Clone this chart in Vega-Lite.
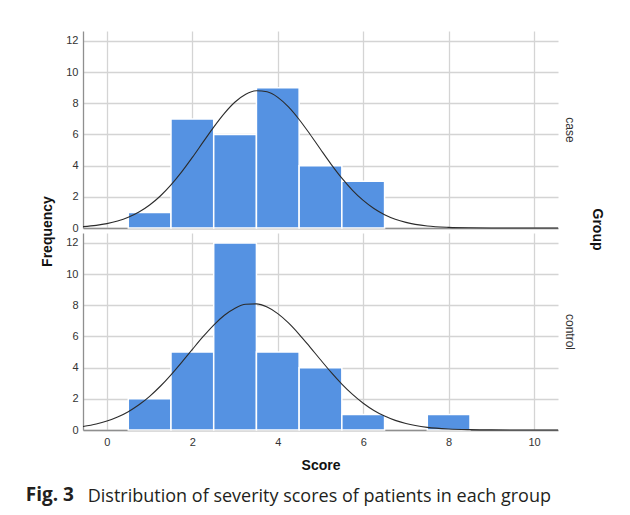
{
  "$schema": "https://vega.github.io/schema/vega-lite/v6.json",
  "padding": {"left": 25, "top": 31, "right": 5, "bottom": 5},
  "background": "white",
  "bounds": "flush",
  "datasets": {
    "bins": [
      {"group": "case", "lo": 0.5, "hi": 1.5, "count": 1},
      {"group": "case", "lo": 1.5, "hi": 2.5, "count": 7},
      {"group": "case", "lo": 2.5, "hi": 3.5, "count": 6},
      {"group": "case", "lo": 3.5, "hi": 4.5, "count": 9},
      {"group": "case", "lo": 4.5, "hi": 5.5, "count": 4},
      {"group": "case", "lo": 5.5, "hi": 6.5, "count": 3},
      {"group": "control", "lo": 0.5, "hi": 1.5, "count": 2},
      {"group": "control", "lo": 1.5, "hi": 2.5, "count": 5},
      {"group": "control", "lo": 2.5, "hi": 3.5, "count": 12},
      {"group": "control", "lo": 3.5, "hi": 4.5, "count": 5},
      {"group": "control", "lo": 4.5, "hi": 5.5, "count": 4},
      {"group": "control", "lo": 5.5, "hi": 6.5, "count": 1},
      {"group": "control", "lo": 7.5, "hi": 8.5, "count": 1}
    ],
    "curve": [
      {"group": "case", "x": -0.56, "y": 0.086},
      {"group": "case", "x": -0.25, "y": 0.169},
      {"group": "case", "x": 0, "y": 0.279},
      {"group": "case", "x": 0.25, "y": 0.445},
      {"group": "case", "x": 0.5, "y": 0.686},
      {"group": "case", "x": 0.75, "y": 1.022},
      {"group": "case", "x": 1, "y": 1.474},
      {"group": "case", "x": 1.25, "y": 2.053},
      {"group": "case", "x": 1.5, "y": 2.765},
      {"group": "case", "x": 1.75, "y": 3.599},
      {"group": "case", "x": 2, "y": 4.528},
      {"group": "case", "x": 2.25, "y": 5.507},
      {"group": "case", "x": 2.5, "y": 6.475},
      {"group": "case", "x": 2.75, "y": 7.358},
      {"group": "case", "x": 3, "y": 8.083},
      {"group": "case", "x": 3.25, "y": 8.583},
      {"group": "case", "x": 3.5, "y": 8.809},
      {"group": "case", "x": 3.75, "y": 8.74},
      {"group": "case", "x": 4, "y": 8.383},
      {"group": "case", "x": 4.25, "y": 7.771},
      {"group": "case", "x": 4.5, "y": 6.963},
      {"group": "case", "x": 4.75, "y": 6.032},
      {"group": "case", "x": 5, "y": 5.05},
      {"group": "case", "x": 5.25, "y": 4.087},
      {"group": "case", "x": 5.5, "y": 3.198},
      {"group": "case", "x": 5.75, "y": 2.419},
      {"group": "case", "x": 6, "y": 1.768},
      {"group": "case", "x": 6.25, "y": 1.249},
      {"group": "case", "x": 6.5, "y": 0.853},
      {"group": "case", "x": 6.75, "y": 0.563},
      {"group": "case", "x": 7, "y": 0.36},
      {"group": "case", "x": 7.5, "y": 0.132},
      {"group": "case", "x": 8, "y": 0.043},
      {"group": "case", "x": 8.5, "y": 0.012},
      {"group": "case", "x": 9, "y": 0.003},
      {"group": "case", "x": 10, "y": 0},
      {"group": "case", "x": 10.56, "y": 0},
      {"group": "control", "x": -0.56, "y": 0.222},
      {"group": "control", "x": -0.25, "y": 0.381},
      {"group": "control", "x": 0, "y": 0.571},
      {"group": "control", "x": 0.25, "y": 0.832},
      {"group": "control", "x": 0.5, "y": 1.177},
      {"group": "control", "x": 0.75, "y": 1.618},
      {"group": "control", "x": 1, "y": 2.162},
      {"group": "control", "x": 1.25, "y": 2.807},
      {"group": "control", "x": 1.5, "y": 3.542},
      {"group": "control", "x": 1.75, "y": 4.341},
      {"group": "control", "x": 2, "y": 5.172},
      {"group": "control", "x": 2.25, "y": 5.987},
      {"group": "control", "x": 2.5, "y": 6.735},
      {"group": "control", "x": 2.75, "y": 7.361},
      {"group": "control", "x": 3, "y": 7.817},
      {"group": "control", "x": 3.25, "y": 8.068},
      {"group": "control", "x": 3.5, "y": 8.091},
      {"group": "control", "x": 3.75, "y": 7.885},
      {"group": "control", "x": 4, "y": 7.467},
      {"group": "control", "x": 4.25, "y": 6.871},
      {"group": "control", "x": 4.5, "y": 6.143},
      {"group": "control", "x": 4.75, "y": 5.338},
      {"group": "control", "x": 5, "y": 4.507},
      {"group": "control", "x": 5.25, "y": 3.697},
      {"group": "control", "x": 5.5, "y": 2.947},
      {"group": "control", "x": 5.75, "y": 2.283},
      {"group": "control", "x": 6, "y": 1.719},
      {"group": "control", "x": 6.25, "y": 1.257},
      {"group": "control", "x": 6.5, "y": 0.894},
      {"group": "control", "x": 6.75, "y": 0.617},
      {"group": "control", "x": 7, "y": 0.414},
      {"group": "control", "x": 7.5, "y": 0.171},
      {"group": "control", "x": 8, "y": 0.063},
      {"group": "control", "x": 8.5, "y": 0.021},
      {"group": "control", "x": 9, "y": 0.006},
      {"group": "control", "x": 10, "y": 0},
      {"group": "control", "x": 10.56, "y": 0}
    ]
  },
  "config": {
    "font": "Liberation Sans",
    "view": {"stroke": null},
    "axis": {
      "labelFont": "Liberation Sans",
      "labelFontSize": 11,
      "labelColor": "#333333",
      "titleFont": "Liberation Sans",
      "titleFontSize": 14,
      "titleFontWeight": "bold",
      "titleColor": "#111111",
      "gridColor": "#d4d4d4",
      "gridWidth": 1.3,
      "domainColor": "#8f8f8f",
      "domainWidth": 1.3,
      "ticks": false
    },
    "title": {"font": "Open Sans", "fontSize": 18, "color": "#231f20"}
  },
  "spacing": 5,
  "title": {
    "text": "Distribution of severity scores of patients in each group",
    "orient": "bottom",
    "anchor": "start",
    "frame": "bounds",
    "fontWeight": "normal",
    "dx": 62,
    "dy": -21
  },
  "vconcat": [
    {
      "width": 475,
      "height": 197,
      "title": {
        "text": "Group",
        "orient": "right",
        "anchor": "middle",
        "font": "Liberation Sans",
        "fontSize": 14,
        "fontWeight": "bold",
        "color": "#111111",
        "offset": 15,
        "dx": 100
      },
      "layer": [
        {
          "data": {"name": "bins"},
          "transform": [{"filter": "datum.group === 'case'"}],
          "mark": {"type": "rect", "color": "#5592e2", "stroke": "white", "strokeWidth": 1.5},
          "encoding": {
            "x": {"field": "lo", "type": "quantitative", "scale": {"domain": [-0.56, 10.56], "nice": false, "zero": false},
                  "axis": {"title": null, "labels": false, "values": [0, 2, 4, 6, 8, 10]}},
            "x2": {"field": "hi"},
            "y": {"field": "count", "type": "quantitative", "scale": {"domain": [0, 12.64], "nice": false},
                  "axis": {"title": "Frequency", "values": [0, 2, 4, 6, 8, 10, 12], "labelPadding": 5, "titlePadding": 11, "titleY": 200}},
            "y2": {"datum": 0}
          }
        },
        {
          "data": {"name": "curve"},
          "transform": [{"filter": "datum.group === 'case'"}],
          "mark": {"type": "line", "color": "#2b2b2b", "strokeWidth": 1.1, "interpolate": "monotone"},
          "encoding": {
            "x": {"field": "x", "type": "quantitative"},
            "y": {"field": "y", "type": "quantitative",
                  "axis": {"orient": "right", "title": "case", "labels": false, "domain": false, "grid": false, "titleAngle": 90, "titleFontWeight": "normal", "titleFontSize": 12, "titleColor": "#333333", "titlePadding": 4}}
          }
        }
      ],
      "resolve": {"axis": {"y": "independent"}}
    },
    {
      "width": 475,
      "height": 197,
      "title": {
        "text": "Fig. 3",
        "orient": "bottom",
        "anchor": "start",
        "frame": "bounds",
        "fontWeight": "bold",
        "fontSize": 19,
        "offset": 14,
        "dx": -40
      },
      "layer": [
        {
          "data": {"name": "bins"},
          "transform": [{"filter": "datum.group === 'control'"}],
          "mark": {"type": "rect", "color": "#5592e2", "stroke": "white", "strokeWidth": 1.5},
          "encoding": {
            "x": {"field": "lo", "type": "quantitative", "scale": {"domain": [-0.56, 10.56], "nice": false, "zero": false},
                  "axis": {"title": "Score", "values": [0, 2, 4, 6, 8, 10], "labelPadding": 6, "titlePadding": 11}},
            "x2": {"field": "hi"},
            "y": {"field": "count", "type": "quantitative", "scale": {"domain": [0, 12.64], "nice": false},
                  "axis": {"title": null, "values": [0, 2, 4, 6, 8, 10, 12], "labelPadding": 5}},
            "y2": {"datum": 0}
          }
        },
        {
          "data": {"name": "curve"},
          "transform": [{"filter": "datum.group === 'control'"}],
          "mark": {"type": "line", "color": "#2b2b2b", "strokeWidth": 1.1, "interpolate": "monotone"},
          "encoding": {
            "x": {"field": "x", "type": "quantitative"},
            "y": {"field": "y", "type": "quantitative",
                  "axis": {"orient": "right", "title": "control", "labels": false, "domain": false, "grid": false, "titleAngle": 90, "titleFontWeight": "normal", "titleFontSize": 12, "titleColor": "#333333", "titlePadding": 4}}
          }
        }
      ],
      "resolve": {"axis": {"y": "independent"}}
    }
  ]
}
